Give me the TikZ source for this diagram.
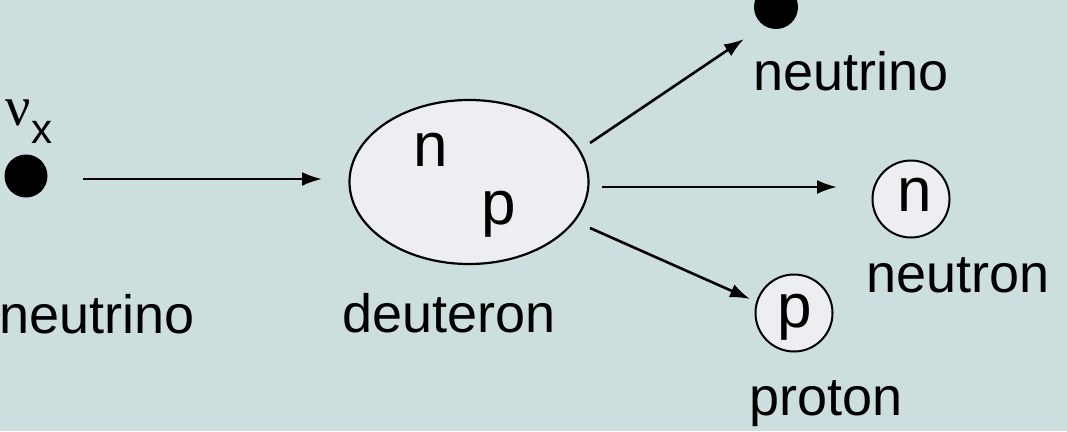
\documentclass[tikz,border=0pt]{standalone}
\usepackage{fontspec}
\setmainfont{Liberation Sans}
\newfontfamily\nufont{Liberation Serif}
\usetikzlibrary{arrows.meta,shapes.geometric}
\definecolor{bgc}{HTML}{CCDEDE}
\definecolor{fillc}{HTML}{ECEEF1}
\tikzset{
  lbl/.style={anchor=base, inner sep=0pt, font=\fontsize{54}{60}\selectfont},
  arr/.style={line width=2.6pt, -{Latex[length=20pt,width=14pt]}},
  dot/.style={circle, fill=black, inner sep=0pt},
  part/.style={circle, draw=black, line width=2pt, fill=fillc, inner sep=0pt, minimum size=77pt},
  big/.style={inner sep=0pt, font=\fontsize{62}{66}\selectfont},
}
\begin{document}
\begin{tikzpicture}[x=1pt,y=-1pt]
\fill[bgc] (0,0) rectangle (1067,431);
\useasboundingbox (0,0) rectangle (1067,431);
% left neutrino
\node[dot, minimum size=43pt] (nl) at (26,176) {};
\node[inner sep=0pt, anchor=base west] (nu) at (5,125) {{\fontsize{56}{60}\selectfont\nufont ν}\kern1pt\raisebox{-18pt}{\fontsize{42}{50}\selectfont x}};
\node[lbl] (lnl) at (97,333) {neutrino};
% deuteron
\node[ellipse, draw=black, line width=2.2pt, fill=fillc, minimum width=239pt, minimum height=164pt, inner sep=0pt] (d) at (469,182) {};
\node[big] (dn) at (431,150) {n};
\node[big] (dp) at (499,214) {p};
\node[lbl] (ld) at (449,332) {deuteron};
% outgoing neutrino
\node[dot, minimum size=44pt] (nt) at (776,7) {};
\node[lbl] (lnt) at (851,90) {neutrino};
% neutron
\node[part] (pn) at (911,199) {};
\node[big] (pnt) at (915,195) {n};
\node[lbl] (lpn) at (958,292) {neutron};
% proton
\node[part] (pp) at (794,313) {};
\node[big] (ppt) at (795,317) {p};
\node[lbl] (lpp) at (826,415) {proton};
% connector ends
\coordinate (a1s) at (83,179);
\coordinate (a1e) at (322,179);
\coordinate (a2s) at (590,143);
\coordinate (a2e) at (744,39);
\coordinate (a3s) at (602,187);
\coordinate (a3e) at (837,187);
\coordinate (a4s) at (590,228);
\coordinate (a4e) at (750,299);
\draw[arr] (a1s) -- (a1e);
\draw[arr] (a2s) -- (a2e);
\draw[arr] (a3s) -- (a3e);
\draw[arr] (a4s) -- (a4e);
\end{tikzpicture}
\end{document}
